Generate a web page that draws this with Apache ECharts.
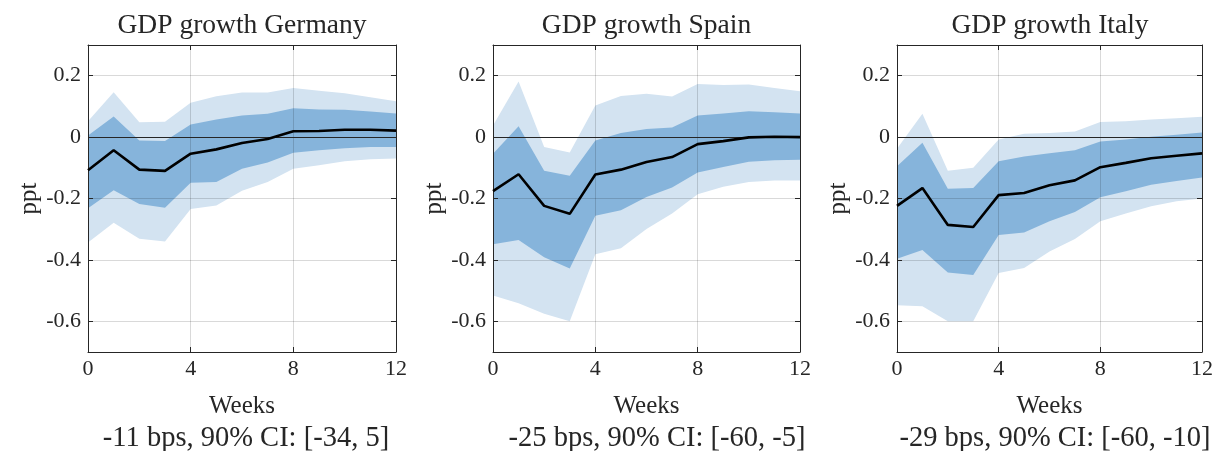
<!DOCTYPE html>
<html>
<head>
<meta charset="utf-8">
<title>GDP growth responses</title>
<script src="https://cdn.jsdelivr.net/npm/echarts@6/dist/echarts.min.js"></script>
<style>
  html, body { margin: 0; padding: 0; background: #ffffff; }
  #chart { width: 1216px; height: 451px; }
</style>
</head>
<body>
<div id="chart"></div>
<script>
// Horizon in weeks
const weeks = [0, 1, 2, 3, 4, 5, 6, 7, 8, 9, 10, 11, 12];

// Germany: median response and 68% / 90% bands (ppt)
const deMedian = [-0.108, -0.043, -0.106, -0.110, -0.054, -0.040, -0.019, -0.006, 0.019, 0.020, 0.024, 0.024, 0.021];
const deLo68   = [-0.232, -0.173, -0.218, -0.230, -0.149, -0.146, -0.103, -0.083, -0.051, -0.043, -0.036, -0.032, -0.032];
const deHi68   = [0.005, 0.067, -0.011, -0.013, 0.041, 0.057, 0.070, 0.076, 0.094, 0.090, 0.089, 0.083, 0.077];
const deLo90   = [-0.343, -0.279, -0.331, -0.340, -0.234, -0.223, -0.175, -0.146, -0.103, -0.092, -0.079, -0.072, -0.070];
const deHi90   = [0.052, 0.146, 0.048, 0.050, 0.112, 0.133, 0.145, 0.145, 0.160, 0.151, 0.143, 0.130, 0.117];

// Spain
const esMedian = [-0.176, -0.121, -0.224, -0.250, -0.122, -0.106, -0.081, -0.065, -0.023, -0.013, -0.001, 0.001, 0.000];
const esLo68   = [-0.349, -0.335, -0.391, -0.428, -0.256, -0.238, -0.195, -0.164, -0.115, -0.097, -0.080, -0.075, -0.074];
const esHi68   = [-0.054, 0.035, -0.110, -0.126, -0.011, 0.013, 0.026, 0.031, 0.070, 0.077, 0.084, 0.081, 0.077];
const esLo90   = [-0.516, -0.541, -0.575, -0.600, -0.382, -0.362, -0.299, -0.249, -0.186, -0.162, -0.146, -0.141, -0.141];
const esHi90   = [0.038, 0.181, -0.032, -0.050, 0.103, 0.134, 0.141, 0.132, 0.173, 0.170, 0.171, 0.160, 0.149];

// Italy
const itMedian = [-0.224, -0.166, -0.286, -0.293, -0.189, -0.182, -0.157, -0.141, -0.098, -0.084, -0.069, -0.061, -0.053];
const itLo68   = [-0.396, -0.368, -0.441, -0.449, -0.319, -0.311, -0.274, -0.244, -0.196, -0.176, -0.155, -0.143, -0.132];
const itHi68   = [-0.095, -0.018, -0.168, -0.166, -0.079, -0.063, -0.053, -0.043, -0.014, -0.008, 0.001, 0.008, 0.015];
const itLo90   = [-0.548, -0.551, -0.600, -0.600, -0.443, -0.426, -0.373, -0.332, -0.274, -0.249, -0.225, -0.209, -0.200];
const itHi90   = [-0.038, 0.076, -0.110, -0.100, -0.008, 0.011, 0.013, 0.018, 0.049, 0.052, 0.057, 0.061, 0.066];

const titles    = ['GDP growth Germany', 'GDP growth Spain', 'GDP growth Italy'];
const subtitles = ['-11 bps, 90% CI: [-34, 5]', '-25 bps, 90% CI: [-60, -5]', '-29 bps, 90% CI: [-60, -10]'];
const xName = 'Weeks';
const yName = 'ppt';

const panels = [
  { median: deMedian, lo68: deLo68, hi68: deHi68, lo90: deLo90, hi90: deHi90 },
  { median: esMedian, lo68: esLo68, hi68: esHi68, lo90: esLo90, hi90: esHi90 },
  { median: itMedian, lo68: itLo68, hi68: itHi68, lo90: itLo90, hi90: itHi90 }
];

// Plot-area placement of the three panels
const layout = [
  { left: 88,  width: 308 },
  { left: 493, width: 307 },
  { left: 897, width: 306 }
];
const plotTop = 45, plotHeight = 307;
const subtitleX = [246, 657, 1055];

const FONT = '"Liberation Serif", "Times New Roman", serif';
const INK = '#262626';
const GRID = 'rgba(0,0,0,0.15)';
const LIGHT = '#d3e3f1';
const DARK = '#86b4db';

const chart = echarts.init(document.getElementById('chart'));

const grids = [], xAxes = [], yAxes = [], series = [], graphics = [];

// Confidence band drawn as one filled polygon between the lower and upper bounds
function bandSeries(axisIdx, lo, hi, color, z) {
  const data = weeks.map((w, i) => [w, lo[i], hi[i]]);
  return {
    type: 'custom',
    xAxisIndex: axisIdx,
    yAxisIndex: axisIdx,
    silent: true,
    z: z,
    data: data,
    encode: { x: 0, y: [1, 2] },
    renderItem: function (params, api) {
      if (params.dataIndex !== 0) return null;
      const upper = data.map(d => api.coord([d[0], d[2]]));
      const lower = data.map(d => api.coord([d[0], d[1]])).reverse();
      return {
        type: 'polygon',
        shape: { points: upper.concat(lower) },
        style: { fill: color, stroke: null }
      };
    }
  };
}

panels.forEach((p, i) => {
  const L = layout[i];
  grids.push({ left: L.left, top: plotTop, width: L.width, height: plotHeight, containLabel: false });

  const xBase = {
    gridIndex: i, type: 'value', min: 0, max: 12, interval: 4, z: 5,
    axisLine: { show: true, onZero: false, lineStyle: { color: INK, width: 1 } },
    axisTick: { show: true, inside: true, length: 5, lineStyle: { color: INK } }
  };
  // bottom x axis with labels and grid lines
  xAxes.push(Object.assign({}, xBase, {
    position: 'bottom',
    name: xName, nameLocation: 'middle', nameGap: 42,
    nameTextStyle: { fontFamily: FONT, fontSize: 25, color: INK },
    axisLabel: { show: true, margin: 6, fontFamily: FONT, fontSize: 22, color: INK },
    splitLine: { show: true, lineStyle: { color: GRID, width: 1 } }
  }));
  // top x axis: box edge and ticks only
  xAxes.push(Object.assign({}, xBase, {
    position: 'top',
    axisLabel: { show: false },
    splitLine: { show: false }
  }));

  const yBase = {
    gridIndex: i, type: 'value', min: -0.7, max: 0.3, splitNumber: 5, z: 5,
    axisLine: { show: true, onZero: false, lineStyle: { color: INK, width: 1 } },
    axisTick: { show: true, inside: true, length: 5, lineStyle: { color: INK } }
  };
  yAxes.push(Object.assign({}, yBase, {
    position: 'left',
    name: yName, nameLocation: 'middle', nameGap: 46,
    nameTextStyle: { fontFamily: FONT, fontSize: 25, color: INK },
    axisLabel: {
      show: true, margin: 7, fontFamily: FONT, fontSize: 22, color: INK,
      showMinLabel: false, showMaxLabel: false,
      formatter: v => (Math.abs(v) < 1e-9 ? '0' : String(Math.round(v * 10) / 10))
    },
    splitLine: { show: true, lineStyle: { color: GRID, width: 1 } }
  }));
  // right y axis: box edge and ticks only
  yAxes.push(Object.assign({}, yBase, {
    position: 'right',
    axisLabel: { show: false },
    splitLine: { show: false }
  }));

  const ax = i * 2;
  series.push(bandSeries(ax, p.lo90, p.hi90, LIGHT, 1));
  series.push(bandSeries(ax, p.lo68, p.hi68, DARK, 2));
  series.push({
    type: 'line',
    xAxisIndex: ax, yAxisIndex: ax,
    data: weeks.map((w, k) => [w, p.median[k]]),
    showSymbol: false, silent: true, z: 10,
    lineStyle: { color: '#000000', width: 2.6 },
    markLine: {
      silent: true, symbol: ['none', 'none'],
      label: { show: false },
      lineStyle: { color: INK, width: 1.2, type: 'solid' },
      data: [{ yAxis: 0 }]
    }
  });

  graphics.push({
    type: 'text', x: L.left + L.width / 2, y: 26,
    style: { text: titles[i], fontFamily: FONT, fontSize: 27.5, fill: INK, textAlign: 'center', textVerticalAlign: 'middle' }
  });
  graphics.push({
    type: 'text', x: subtitleX[i], y: 439,
    style: { text: subtitles[i], fontFamily: FONT, fontSize: 28.5, fill: INK, textAlign: 'center', textVerticalAlign: 'middle' }
  });
});

chart.setOption({
  animation: false,
  backgroundColor: '#ffffff',
  grid: grids,
  xAxis: xAxes,
  yAxis: yAxes,
  series: series,
  graphic: graphics
});
</script>
</body>
</html>
